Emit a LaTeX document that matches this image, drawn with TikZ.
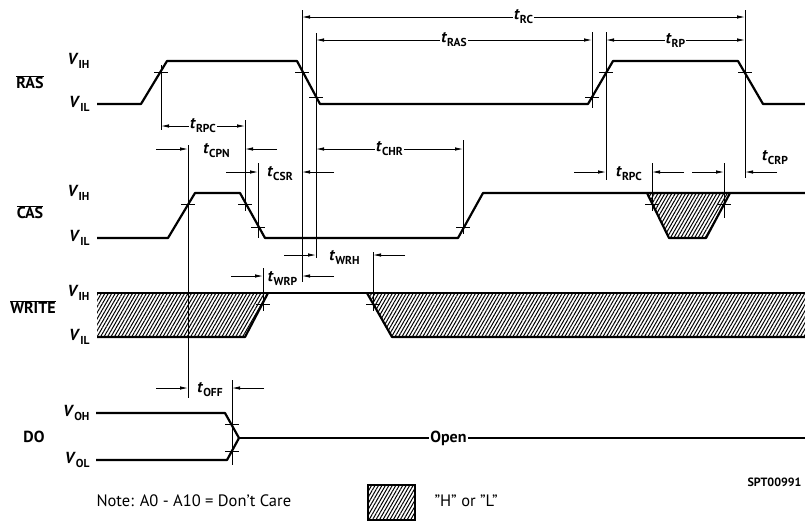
\documentclass[tikz,border=0pt]{standalone}
\usepackage{fontspec}
\setmainfont{PT Sans}
\usetikzlibrary{arrows.meta,patterns.meta}
\tikzset{
    signal/.style={line width=2.2pt, line join=round},
    thinline/.style={line width=0.8pt},
    dimarrow/.style={line width=0.8pt, >={Latex[length=8pt,width=3.5pt]}},
    hatch/.style={pattern={Lines[angle=60,distance=3pt,line width=1pt]}},
}
\newcommand{\tsub}[2]{\textit{#1}\raisebox{-0.5ex}{\fontsize{11.5}{12}\selectfont #2}}
\newcommand{\barred}[1]{$\overline{\hbox{#1}}$}
\newcommand{\tickmark}[2]{
    \draw[thinline] ({#1-7}, #2) -- ({#1+7}, #2) (#1, {#2-7}) -- (#1, {#2+7});
}
\newcommand{\guideline}[3]{
    \draw[thinline] (#1, #2) -- (#1, #3);
}
\newcommand{\timespan}[5]{
    \draw[dimarrow, <->] (#3, #2) -- (#4, #2) node[midway, fill=white, inner sep=1pt](#1){#5};
}
\newcommand{\timegap}[5]{
    \draw[dimarrow, ->] ({#3-32}, #2) -- (#3, #2);
    \draw[dimarrow, ->] ({#4+32}, #2) -- (#4, #2);
    \path ({(#3+#4)/2}, {#2+2}) node(#1){#5};
}

\begin{document}
\begin{tikzpicture}[x=1pt, y=-1pt, font=\fontsize{16}{18}\selectfont\bfseries]
    \useasboundingbox (0,0) rectangle (805,523);

    \node (ras) at (30,82) {\barred{RAS}};
    \node[anchor=east] (rasH) at (93,61) {\tsub{V}{IH}};
    \node[anchor=east] (rasL) at (93,104) {\tsub{V}{IL}};
    \node (cas) at (30,212) {\barred{CAS}};
    \node[anchor=east] (casH) at (93,193) {\tsub{V}{IH}};
    \node[anchor=east] (casL) at (93,238) {\tsub{V}{IL}};
    \node (write) at (33,307) {\barred{WRITE}};
    \node[anchor=east] (writeH) at (93,293) {\tsub{V}{IH}};
    \node[anchor=east] (writeL) at (93,337) {\tsub{V}{IL}};
    \node (do) at (34,437) {DO};
    \node[anchor=east] (doH) at (93,413) {\tsub{V}{OH}};
    \node[anchor=east] (doL) at (93,460) {\tsub{V}{OL}};

    \fill[hatch] (647,193) -- (730,193) -- (706,238) -- (669,238) -- cycle;
    \fill[hatch] (97,293) -- (268,293) -- (245,337) -- (97,337) -- cycle;
    \fill[hatch] (367,293) -- (805,293) -- (805,337) -- (392,337) -- cycle;

    \draw[signal] (97,104) -- (141,104) -- (167,61) -- (297,61) -- (320,104) -- (588,104)
        -- (613,61) -- (738,61) -- (763,104) -- (805,104);
    \draw[signal] (97,238) -- (168,238) -- (195,193) -- (240,193) -- (265,238) -- (458,238)
        -- (483,193) -- (805,193);
    \draw[signal] (647,193) -- (669,238) -- (706,238) -- (730,193);
    \draw[signal] (97,293) -- (805,293);
    \draw[signal] (97,337) -- (245,337) -- (268,293);
    \draw[signal] (367,293) -- (392,337) -- (805,337);
    \draw[signal] (96,413) -- (225,413) -- (239,438) -- (227,460) -- (96,460);
    \draw[signal] (239,438) -- (805,438) node[pos=0.37, fill=white, inner sep=1pt](open){Open};

    \guideline{161}{72}{130};
    \guideline{245}{120}{204};
    \guideline{188}{145}{398};
    \guideline{258}{163}{238};
    \guideline{302}{10}{282};
    \guideline{316}{33}{258};
    \guideline{463}{140}{229};
    \guideline{263}{268}{304};
    \guideline{373}{252}{304};
    \guideline{232}{380}{465};
    \guideline{592}{32}{108};
    \guideline{606}{32}{180};
    \guideline{745}{10}{178};
    \guideline{652}{163}{204};
    \guideline{724}{163}{218};

    \tickmark{161}{72};
    \tickmark{302}{72};
    \tickmark{316}{97};
    \tickmark{592}{97};
    \tickmark{606}{72};
    \tickmark{745}{72};
    \tickmark{188}{204};
    \tickmark{245}{204};
    \tickmark{258}{227};
    \tickmark{463}{227};
    \tickmark{652}{204};
    \tickmark{724}{204};
    \tickmark{263}{304};
    \tickmark{373}{304};
    \tickmark{232}{424};
    \tickmark{232}{451};

    \timespan{rc}{17}{302}{745}{\tsub{t}{RC}};
    \timespan{rasT}{40}{316}{592}{\tsub{t}{RAS}};
    \timespan{rp}{40}{606}{745}{\tsub{t}{RP}};
    \timespan{rpcA}{126}{161}{245}{\tsub{t}{RPC}};
    \timespan{chr}{149}{316}{463}{\tsub{t}{CHR}};

    \timegap{cpn}{149}{188}{245}{\tsub{t}{CPN}};
    \timegap{csr}{172}{258}{302}{\tsub{t}{CSR}};
    \timegap{wrh}{255}{316}{373}{\tsub{t}{WRH}};
    \timegap{wrp}{276}{263}{302}{\tsub{t}{WRP}};
    \timegap{off}{388}{188}{232}{\tsub{t}{OFF}};
    \timegap{rpcB}{172}{606}{652}{\tsub{t}{RPC}};
    \timegap{crp}{172}{724}{745}{};
    \node (crpLabel) at (775,158) {\tsub{t}{CRP}};

    \node[anchor=east, font=\fontsize{12}{14}\selectfont\bfseries] (code) at (805,482) {SPT00991};
    \node[anchor=west, font=\fontsize{16.5}{19}\selectfont] (note) at (93,501) {Note: A0 - A10 = Don't Care};
    \draw[hatch, line width=1.4pt] (368,485) rectangle (415,520);
    \node[anchor=west, font=\fontsize{16.5}{19}\selectfont] (legend) at (431,501) {"H" or "L"};
\end{tikzpicture}
\end{document}
